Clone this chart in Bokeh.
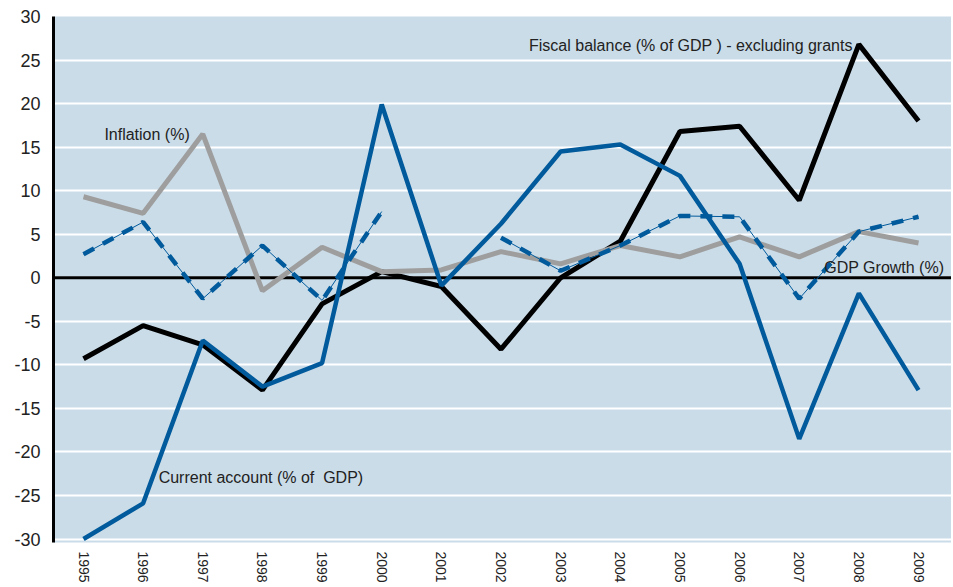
from bokeh.plotting import figure
from bokeh.models import Range1d, FixedTicker, Span, Label
from bokeh.embed import file_html
from bokeh.resources import INLINE

years = [1995, 1996, 1997, 1998, 1999, 2000, 2001, 2002, 2003, 2004, 2005, 2006, 2007, 2008, 2009]
current_account = [-30.0, -25.9, -7.2, -12.5, -9.8, 19.9, -0.9, 6.2, 14.5, 15.3, 11.7, 1.6, -18.5, -1.8, -12.9]
fiscal_balance = [-9.3, -5.5, -7.7, -12.9, -3.0, 0.7, -1.0, -8.2, 0.0, 4.2, 16.8, 17.4, 8.9, 26.8, 18.0]
inflation = [9.3, 7.4, 16.5, -1.5, 3.5, 0.7, 0.9, 3.0, 1.6, 3.7, 2.4, 4.7, 2.4, 5.3, 4.0]
gdp_growth = [2.7, 6.4, -2.4, 3.7, -2.6, 7.6, float("nan"), 4.6, 0.8, 3.7, 7.1, 7.0, -2.4, 5.3, 7.0]
y_ticks = [-30, -25, -20, -15, -10, -5, 0, 5, 10, 15, 20, 25, 30]

BLUE = "#005A9C"
GRAY = "#9E9E9E"
BG = "#CADCE8"
FONT = "Liberation Sans"

p = figure(width=951, height=585, output_backend="svg", toolbar_location=None,
           x_range=Range1d(1994.497, 2009.553), y_range=Range1d(-30.4, 30))
p.min_border_left = 53
p.min_border_right = 0
p.min_border_top = 16
p.min_border_bottom = 42
p.background_fill_color = BG
p.border_fill_color = "white"
p.outline_line_color = None

# grid
p.xgrid.grid_line_color = None
p.ygrid.ticker = FixedTicker(ticks=y_ticks)
p.ygrid.grid_line_color = "white"
p.ygrid.grid_line_width = 2

# y axis
p.yaxis.ticker = FixedTicker(ticks=y_ticks)
p.yaxis.major_label_overrides = {t: str(t) for t in y_ticks}
p.yaxis.axis_line_color = "black"
p.yaxis.axis_line_width = 3
p.yaxis.major_tick_line_color = None
p.yaxis.minor_tick_line_color = None
p.yaxis.major_tick_out = 0
p.yaxis.major_tick_in = 0
p.yaxis.major_label_standoff = 13
p.yaxis.major_label_text_font = FONT
p.yaxis.major_label_text_font_size = "18px"
p.yaxis.major_label_text_color = "#222222"

# x axis
p.xaxis.ticker = FixedTicker(ticks=years)
p.xaxis.major_label_overrides = {y: str(y) for y in years}
p.xaxis.axis_line_color = None
p.xaxis.major_tick_line_color = None
p.xaxis.minor_tick_line_color = None
p.xaxis.major_tick_out = 0
p.xaxis.major_tick_in = 0
p.xaxis.major_label_orientation = "vertical"
p.xaxis.major_label_standoff = 9
p.xaxis.major_label_text_font = FONT
p.xaxis.major_label_text_font_size = "14px"
p.xaxis.major_label_text_color = "#222222"

zero = Span(location=0, dimension="width", line_color="black", line_width=3, level="underlay")
p.add_layout(zero)

p.line(years, fiscal_balance, line_color="black", line_width=5)
p.line(years, inflation, line_color=GRAY, line_width=5)
p.line(years, current_account, line_color=BLUE, line_width=4.5)
p.line(years, gdp_growth, line_color=BLUE, line_width=1)
p.line(years, gdp_growth, line_color=BLUE, line_width=4.5, line_dash="12 10")

labels = [
    ("Inflation (%)", 1995.35, 16.4),
    ("Fiscal balance (% of GDP ) - excluding grants", 2002.47, 26.7),
    ("Current account (% of \u00a0GDP)", 1996.26, -22.9),
    ("GDP Growth (%)", 2007.42, 1.2),
]
for txt, lx, ly in labels:
    p.add_layout(Label(x=lx, y=ly, text=txt, text_font=FONT, text_font_size="16px",
                       text_color="#222222", text_baseline="middle", text_align="left"))

open("out.html", "w").write(file_html(p, INLINE))
